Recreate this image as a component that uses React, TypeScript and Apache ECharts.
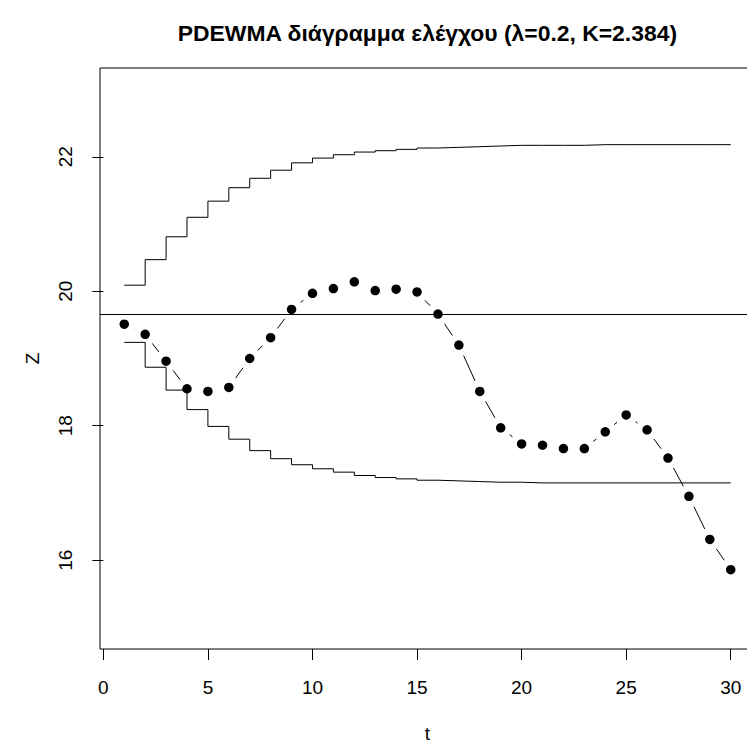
import React, { useEffect, useRef } from "react";
import * as echarts from "echarts";

// ---- data ----
const tValues = [1, 2, 3, 4, 5, 6, 7, 8, 9, 10, 11, 12, 13, 14, 15, 16, 17, 18, 19, 20, 21, 22, 23, 24, 25, 26, 27, 28, 29, 30];
const zValues = [19.51, 19.36, 18.96, 18.55, 18.51, 18.57, 19.0, 19.31, 19.73, 19.97, 20.04, 20.14, 20.01, 20.03, 19.99, 19.66, 19.2, 18.51, 17.97, 17.73, 17.71, 17.66, 17.66, 17.91, 18.16, 17.94, 17.52, 16.95, 16.31, 15.86];
const upperLimit = [20.09, 20.47, 20.81, 21.1, 21.34, 21.54, 21.68, 21.8, 21.91, 21.98, 22.03, 22.07, 22.09, 22.11, 22.13, 22.14, 22.15, 22.16, 22.17, 22.17, 22.17, 22.17, 22.18, 22.18, 22.18, 22.18, 22.18, 22.18, 22.18, 22.18];
const lowerLimit = [19.24, 18.87, 18.53, 18.24, 17.99, 17.8, 17.63, 17.51, 17.42, 17.36, 17.31, 17.26, 17.23, 17.21, 17.19, 17.18, 17.17, 17.16, 17.16, 17.15, 17.15, 17.15, 17.15, 17.15, 17.15, 17.15, 17.15, 17.15, 17.15, 17.15];
const centerLine = 19.66;
const xTicks = [0, 5, 10, 15, 20, 25, 30];
const yTicks = [16, 18, 20, 22];
const titleText = "PDEWMA διάγραμμα ελέγχου (λ=0.2, K=2.384)";
const xName = "t";
const yName = "Z";

const FONT = "'Liberation Sans', Arial, Helvetica, sans-serif";

export default function App() {
  const ref = useRef<HTMLDivElement>(null);

  useEffect(() => {
    if (!ref.current) return;
    const chart = echarts.init(ref.current, null, { renderer: "svg" });

    const points = tValues.map((t, i) => [t, zValues[i]]);
    const upper = tValues.map((t, i) => [t, upperLimit[i]]);
    const lower = tValues.map((t, i) => [t, lowerLimit[i]]);
    const segments = tValues.slice(0, -1).map((t, i) => [t, zValues[i], tValues[i + 1], zValues[i + 1]]);

    const GAP = 11.5;

    chart.setOption({
      animation: false,
      backgroundColor: "#ffffff",
      graphic: [
        {
          type: "text",
          x: 427.4,
          y: 33,
          silent: true,
          style: {
            text: titleText,
            font: `bold 22.9px ${FONT}`,
            fill: "#000",
            textAlign: "center",
            textVerticalAlign: "middle",
            align: "center",
            verticalAlign: "middle",
          },
        },
      ],
      grid: {
        left: 100,
        top: 68,
        right: -8,
        bottom: 95,
        show: true,
        borderColor: "#000",
        borderWidth: 1,
        backgroundColor: "transparent",
        containLabel: false,
        outerBoundsMode: "none",
      },
      xAxis: {
        type: "value",
        min: -0.16,
        max: 31.16,
        axisLine: { show: false },
        splitLine: { show: false },
        axisTick: { show: true, length: 11, lineStyle: { color: "#000", width: 1 }, customValues: xTicks },
        axisLabel: { customValues: xTicks, margin: 29, fontSize: 19, color: "#000", fontFamily: FONT },
        name: xName,
        nameLocation: "middle",
        nameGap: 75,
        nameTextStyle: { fontSize: 19, color: "#000", fontFamily: FONT },
      },
      yAxis: {
        type: "value",
        min: 14.68,
        max: 23.32,
        axisLine: { show: false },
        splitLine: { show: false },
        axisTick: { show: true, length: 11, lineStyle: { color: "#000", width: 1 }, customValues: yTicks },
        axisLabel: { customValues: yTicks, rotate: 90, margin: 25, fontSize: 19, color: "#000", fontFamily: FONT },
        name: yName,
        nameLocation: "middle",
        nameGap: 58,
        nameRotate: 90,
        nameTextStyle: { fontSize: 19, color: "#000", fontFamily: FONT },
      },
      series: [
        {
          type: "line",
          name: "UCL",
          data: upper,
          step: "end",
          showSymbol: false,
          symbol: "none",
          silent: true,
          lineStyle: { color: "#000", width: 1 },
          markLine: {
            silent: true,
            symbol: ["none", "none"],
            label: { show: false },
            lineStyle: { color: "#000", width: 1, type: "solid" },
            data: [{ yAxis: centerLine }],
          },
        },
        {
          type: "line",
          name: "LCL",
          data: lower,
          step: "end",
          showSymbol: false,
          symbol: "none",
          silent: true,
          lineStyle: { color: "#000", width: 1 },
        },
        {
          type: "custom",
          name: "links",
          data: segments,
          encode: { x: [0, 2], y: [1, 3] },
          silent: true,
          renderItem: (params: any, api: any) => {
            const p0 = api.coord([api.value(0), api.value(1)]);
            const p1 = api.coord([api.value(2), api.value(3)]);
            const dx = p1[0] - p0[0];
            const dy = p1[1] - p0[1];
            const d = Math.hypot(dx, dy);
            if (d <= 2 * GAP) return { type: "group", children: [] };
            const ux = dx / d;
            const uy = dy / d;
            return {
              type: "line",
              shape: {
                x1: p0[0] + ux * GAP,
                y1: p0[1] + uy * GAP,
                x2: p1[0] - ux * GAP,
                y2: p1[1] - uy * GAP,
              },
              style: { stroke: "#000", lineWidth: 1 },
            };
          },
        },
        {
          type: "scatter",
          name: "Z",
          data: points,
          symbol: "circle",
          symbolSize: 9.5,
          silent: true,
          itemStyle: { color: "#000", opacity: 1 },
        },
      ],
    });

    return () => {
      chart.dispose();
    };
  }, []);

  return (
    <div
      ref={ref}
      style={{ position: "fixed", left: 0, top: 0, width: 747, height: 744, background: "#fff" }}
    />
  );
}
